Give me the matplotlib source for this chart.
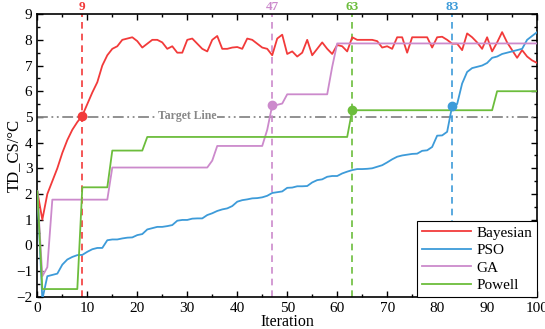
import numpy as np
import matplotlib
matplotlib.use("Agg")
import matplotlib.pyplot as plt
from matplotlib.ticker import MultipleLocator

plt.rcParams["font.family"] = ["Liberation Serif", "DejaVu Serif"]

# ── Data ──────────────────────────────────────────────────────────────────────
iters = np.arange(0, 101)

bayesian = [2.1, 1.0, 2.0, 2.5, 3.0, 3.6, 4.1, 4.5, 4.8, 5.05,
            5.5, 5.95, 6.35, 7.0, 7.4, 7.65, 7.75, 8.0, 8.05, 8.1,
            7.95, 7.7, 7.85, 8.0, 8.0, 7.9, 7.65, 7.75, 7.5, 7.5,
            8.0, 8.05, 7.85, 7.65, 7.55, 8.0, 8.15, 7.65, 7.65, 7.7,
            7.72, 7.65, 8.05, 8.0, 7.85, 7.7, 7.65, 7.4, 8.05, 8.2,
            7.45, 7.55, 7.35, 7.5, 8.0, 7.4, 7.65, 7.9, 7.65, 7.45,
            7.8, 7.75, 7.55, 8.1, 8.0, 8.0, 8.0, 8.0, 7.95, 7.7,
            7.75, 7.65, 8.1, 8.1, 7.5, 8.1, 8.1, 8.1, 8.1, 7.7,
            8.1, 8.12, 8.0, 7.85, 7.85, 7.6, 8.25, 8.1, 7.9, 7.65,
            8.1, 7.55, 7.9, 8.3, 7.9, 7.6, 7.3, 7.6, 7.35, 7.2, 7.1]

pso = [2.1, -2.1, -1.2, -1.15, -1.1, -0.75, -0.55, -0.45, -0.38, -0.37,
       -0.25, -0.15, -0.1, -0.1, 0.2, 0.23, 0.23, 0.27, 0.3, 0.31,
       0.4, 0.44, 0.62, 0.67, 0.72, 0.72, 0.75, 0.79, 0.96, 0.99,
       0.99, 1.04, 1.05, 1.05, 1.18, 1.25, 1.34, 1.4, 1.44, 1.53,
       1.7, 1.76, 1.79, 1.83, 1.84, 1.87, 1.93, 2.04, 2.07, 2.1,
       2.24, 2.25, 2.3, 2.3, 2.31, 2.45, 2.54, 2.57, 2.67, 2.7,
       2.7, 2.8, 2.87, 2.93, 2.97, 2.97, 2.98, 3.0, 3.06, 3.12,
       3.23, 3.35, 3.45, 3.5, 3.53, 3.56, 3.57, 3.68, 3.7, 3.83,
       4.27, 4.28, 4.42, 5.42, 5.5, 6.3, 6.75, 6.9, 6.95, 7.0,
       7.1, 7.3, 7.35, 7.45, 7.5, 7.55, 7.6, 7.65, 8.0, 8.15, 8.3]

ga = ([2.1, -1.2, -0.85] + [1.78] * 12 + [3.03] * 20 + [3.3]
      + [3.87] * 10 + [4.5, 5.45, 5.47, 5.52] + [5.88] * 9 + [6.95]
      + [7.86] * 41)

powell = ([2.1] + [-1.7] * 8 + [2.26] * 6 + [3.69] * 7 + [4.22] * 41
          + [5.26] * 29 + [6.0] * 9)

methods = ["Bayesian", "PSO", "GA", "Powell"]
colors = ["#F23A3A", "#3D9BD9", "#CC8ACC", "#6CBD3C"]
hit_iter = [9, 83, 47, 63]
hit_val = [5.05, 5.42, 5.45, 5.26]
target = 5.0

series = [bayesian, pso, ga, powell]

# ── Figure ────────────────────────────────────────────────────────────────────
fig = plt.figure(figsize=(5.45, 3.29), dpi=100)
ax = fig.add_axes([0.0685, 0.098, 0.917, 0.859])

for y, name, c in zip(series, methods, colors):
    ax.plot(iters, y, color=c, lw=1.3, label=name, zorder=3)

ax.axhline(target, color="#888888", lw=1.3, ls=(0, (6, 2, 1, 2, 1, 2)), zorder=2)
ax.text(30, target + 0.05, "Target Line", ha="center", va="center", fontsize=8.5,
        fontweight="bold", color="#888888",
        bbox=dict(facecolor="white", edgecolor="none", pad=0.5), zorder=2.5)

for xi, yv, c in zip(hit_iter, hit_val, colors):
    ax.axvline(xi, color=c, lw=1.2, ls=(0, (4, 3)), zorder=2)
    ax.plot(xi, yv, "o", color=c, ms=6, zorder=4)
    ax.annotate(str(xi), xy=(xi, 1), xycoords=("data", "axes fraction"),
                xytext=(0, 5.5), textcoords="offset points",
                color=c, ha="center", va="center",
                fontsize=9.5, fontweight="bold")

ax.set_xlim(0, 100)
ax.set_ylim(-2, 9)
ax.xaxis.set_major_locator(MultipleLocator(10))
ax.xaxis.set_minor_locator(MultipleLocator(5))
ax.yaxis.set_major_locator(MultipleLocator(1))
ax.yaxis.set_minor_locator(MultipleLocator(0.5))
ax.tick_params(which="both", direction="in", top=True, right=True,
               labelsize=11, width=1.0)
ax.tick_params(which="major", length=4)
ax.tick_params(which="minor", length=2.5)
for sp in ax.spines.values():
    sp.set_linewidth(1.2)

ax.set_xlabel("Iteration", fontsize=11.5)
ax.xaxis.set_label_coords(0.5, -0.062)
ax.set_ylabel("TD_CS/°C", fontsize=12)
ax.yaxis.set_label_coords(-0.03, 0.5)

leg = ax.legend(loc="lower right", fontsize=11, borderaxespad=0.0,
                fancybox=False, edgecolor="black", framealpha=1,
                handlelength=3.2, handletextpad=0.4, labelspacing=0.25,
                borderpad=0.3)
leg.get_frame().set_linewidth(0.8)

fig.savefig("out.png", dpi=100)
